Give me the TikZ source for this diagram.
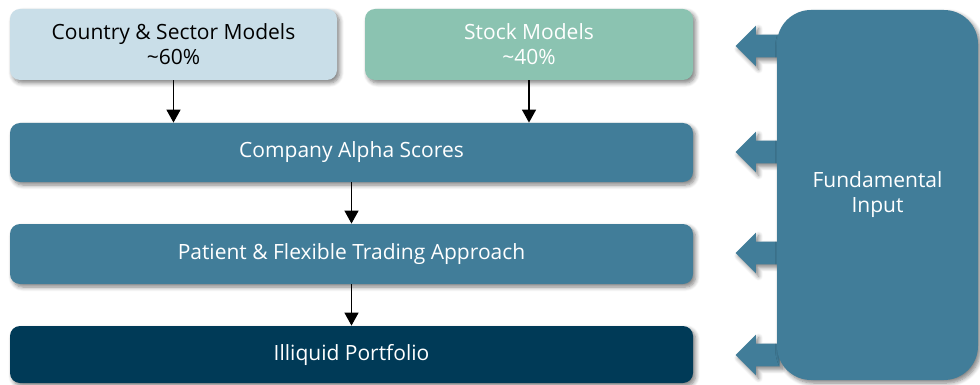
\documentclass[tikz,border=0pt]{standalone}
\usepackage{fontspec}
\setmainfont{Open Sans}
\usetikzlibrary{arrows.meta,shapes.arrows,shadows.blur}
\definecolor{lblue}{HTML}{C9DEE8}
\definecolor{sgreen}{HTML}{8BC3B1}
\definecolor{mblue}{HTML}{417D99}
\definecolor{dblue}{HTML}{003A57}
\tikzset{sh/.style = {blur shadow={shadow xshift=1.3pt, shadow yshift=-1.5pt, shadow blur steps=6, shadow opacity=50}},
         bx/.style = {rectangle, rounded corners=5pt, inner sep=0pt, align=center,
                      font=\fontsize{10.5}{12.5}\selectfont, text=white, sh},
         wd/.style = {bx, minimum width=341.5pt, fill=mblue},
         fi/.style = {single arrow, shape border rotate=180, fill=mblue, inner xsep=0pt, inner ysep=5.5pt,
                      minimum width=20pt, minimum height=22pt, single arrow head extend=4.5pt,
                      anchor=tip, sh},
         ar/.style = {line width=0.75pt, -{Triangle[length=6.5pt, width=7pt]}}}

\begin{document}
\begin{tikzpicture}[x=0.5pt, y=-0.5pt]
    \useasboundingbox (0,0) rectangle (980,385);
    % models on top
    \node[bx, fill=lblue, text=black, minimum width=163.5pt, minimum height=35.5pt] (csm) at (173.5,44.5) {Country \& Sector Models\\\textasciitilde60\%};
    \node[bx, fill=sgreen, minimum width=164pt, minimum height=35.5pt] (sm) at (529,44.5) {Stock Models\\\textasciitilde40\%};
    % wide boxes
    \node[wd, minimum height=29.5pt] (cas) at (351.5,152.5) {Company Alpha Scores};
    \node[wd, minimum height=30pt] (pft) at (351.5,254) {Patient \& Flexible Trading Approach};
    \node[wd, minimum height=28.5pt, fill=dblue] (ip) at (351.5,354.5) {Illiquid Portfolio};
    % block arrows behind the input box
    \foreach \y/\n in {46/a1, 152/a2, 253/a3, 355/a4}
        \node[fi] (\n) at (735,\y) {};
    \node[bx, fill=mblue, rounded corners=17pt, minimum width=100.5pt, minimum height=185pt] (fund) at (877.5,195) {Fundamental\\Input};
    \draw[ar] (csm) -- (csm |- cas.north);
    \draw[ar] (sm) -- (sm |- cas.north);
    \draw[ar] (cas) -- (pft);
    \draw[ar] (pft) -- (ip);
\end{tikzpicture}
\end{document}
